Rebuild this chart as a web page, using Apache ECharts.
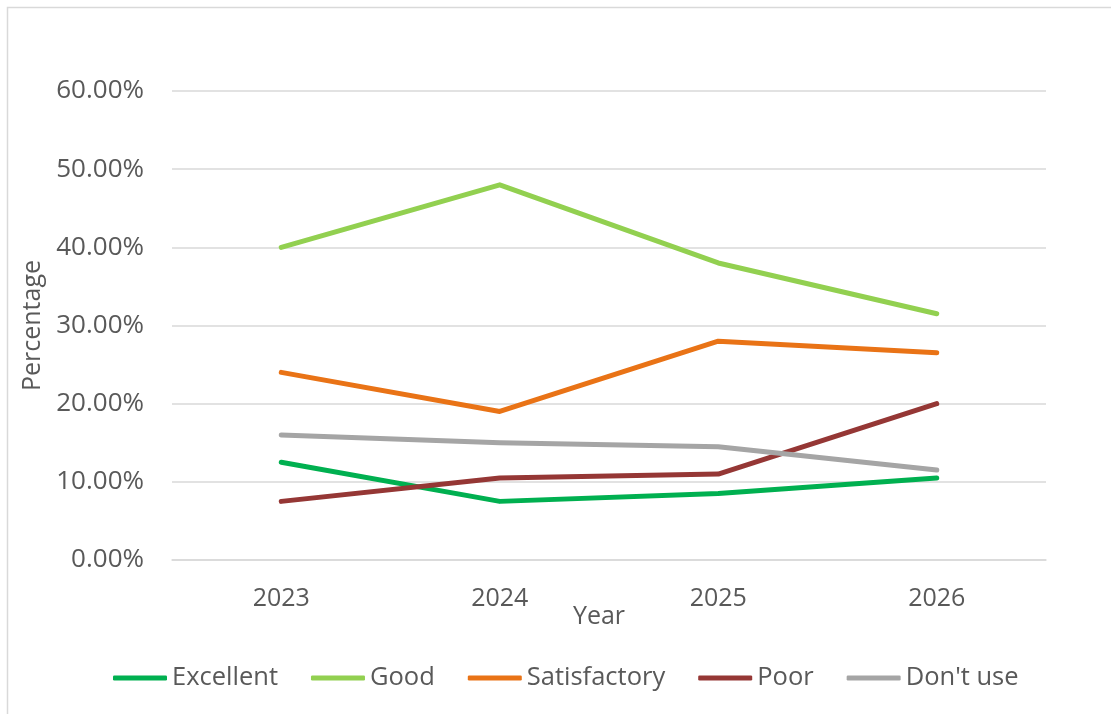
<!DOCTYPE html>
<html>
<head>
<meta charset="utf-8">
<script src="https://cdn.jsdelivr.net/npm/echarts@6/dist/echarts.min.js"></script>
<style>
html,body{margin:0;padding:0;background:#fff;}
#c{width:1111px;height:714px;}
</style>
</head>
<body>
<div id="c"></div>
<script>
var years = ['2023', '2024', '2025', '2026'];
var excellent = [12.5, 7.5, 8.5, 10.5];
var good = [40, 48, 38, 31.5];
var satisfactory = [24, 19, 28, 26.5];
var poor = [7.5, 10.5, 11, 20];
var dontUse = [16, 15, 14.5, 11.5];
var seriesNames = ['Excellent', 'Good', 'Satisfactory', 'Poor', "Don't use"];
var seriesColors = ['#00B050', '#92D050', '#E97316', '#953735', '#A5A5A5'];
var seriesData = [excellent, good, satisfactory, poor, dontUse];

var font = 'Open Sans';
var txt = '#595959';

var chart = echarts.init(document.getElementById('c'));
chart.setOption({
  animation: false,
  backgroundColor: '#fff',
  graphic: [{
    type: 'rect',
    shape: { x: 7.5, y: 7.5, width: 1300, height: 900 },
    style: { fill: 'none', stroke: '#d9d9d9', lineWidth: 1.5 },
    silent: true, z: -1
  }],
  grid: { left: 172, right: 65, top: 91, bottom: 154, containLabel: false },
  legend: {
    bottom: 18,
    left: 108,
    itemWidth: 54,
    itemHeight: 5,
    itemGap: 33,
    icon: 'roundRect',
    textStyle: { fontFamily: font, fontSize: 25.5, color: txt },
    data: seriesNames
  },
  xAxis: {
    type: 'category',
    data: years,
    boundaryGap: true,
    name: 'Year',
    nameLocation: 'middle',
    nameGap: 44,
    nameMoveOverlap: false,
    nameTextStyle: { fontFamily: font, fontSize: 25, color: txt, padding: [0, 20, 0, 0] },
    axisLine: { show: true, lineStyle: { color: '#d9d9d9', width: 1.5 } },
    axisTick: { show: false },
    axisLabel: { fontFamily: font, fontSize: 25, color: txt, margin: 26 }
  },
  yAxis: {
    type: 'value',
    min: 0, max: 60, interval: 10,
    name: 'Percentage',
    nameLocation: 'middle',
    nameRotate: 90,
    nameGap: 127,
    nameMoveOverlap: false,
    nameTextStyle: { fontFamily: font, fontSize: 25, color: txt },
    axisLine: { show: false },
    axisTick: { show: false },
    splitLine: { lineStyle: { color: '#d9d9d9', width: 1.5 } },
    axisLabel: {
      fontFamily: font, fontSize: 26, color: txt, margin: 28,
      formatter: function (v) { return v.toFixed(2) + '%'; }
    }
  },
  series: seriesNames.map(function (n, i) {
    return {
      name: n,
      type: 'line',
      data: seriesData[i],
      symbol: 'none',
      color: seriesColors[i],
      lineStyle: { width: 5, color: seriesColors[i], cap: 'round', join: 'round' }
    };
  })
});
</script>
</body>
</html>
